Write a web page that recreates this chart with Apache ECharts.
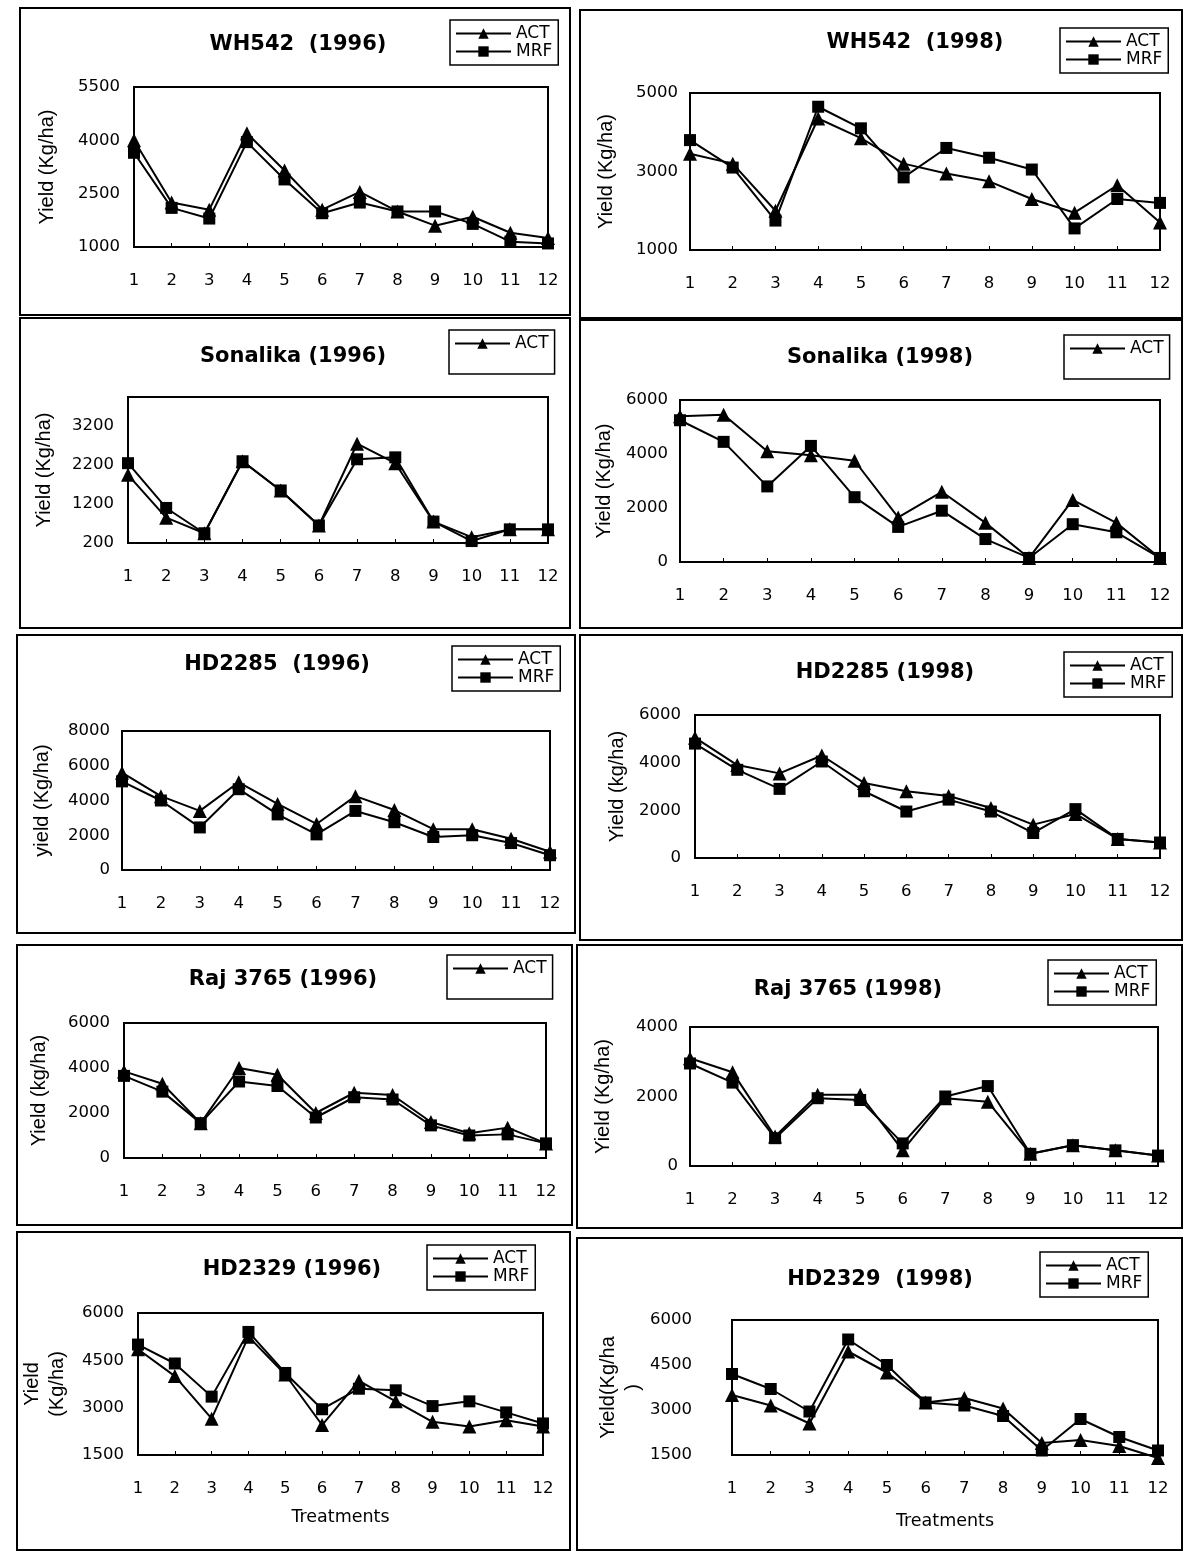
<!DOCTYPE html>
<html>
<head>
<meta charset="utf-8">
<script src="https://cdn.jsdelivr.net/npm/echarts@6/dist/echarts.min.js"></script>
<style>
  html, body { margin: 0; padding: 0; background: #fff; }
  #chart { width: 1184px; height: 1551px; }
</style>
</head>
<body>
<div id="chart"></div>
<script>
// Treatments on the x axis
const treatments = ['1', '2', '3', '4', '5', '6', '7', '8', '9', '10', '11', '12'];

// Grain yield (kg/ha): actual (ACT) and model (MRF) per treatment
const wh542_1996_act = [4000, 2250, 2050, 4200, 3150, 2050, 2550, 2000, 1600, 1850, 1400, 1250];
const wh542_1996_mrf = [3650, 2100, 1800, 3950, 2900, 1950, 2250, 2000, 2000, 1650, 1150, 1100];
const wh542_1998_act = [3450, 3200, 2000, 4350, 3850, 3200, 2950, 2750, 2300, 1950, 2650, 1700];
const wh542_1998_mrf = [3800, 3100, 1750, 4650, 4100, 2850, 3600, 3350, 3050, 1550, 2300, 2200];
const sonalika_1996_act = [1950, 850, 450, 2300, 1550, 650, 2750, 2250, 750, 350, 550, 550];
const sonalika_1996_mrf = [2250, 1100, 450, 2300, 1550, 650, 2350, 2400, 750, 250, 550, 550];
const sonalika_1998_act = [5400, 5450, 4100, 3950, 3750, 1650, 2600, 1450, 150, 2300, 1450, 150];
const sonalika_1998_mrf = [5250, 4450, 2800, 4300, 2400, 1300, 1900, 850, 150, 1400, 1100, 150];
const hd2285_1996_act = [5600, 4250, 3400, 5050, 3800, 2650, 4250, 3450, 2350, 2350, 1800, 1050];
const hd2285_1996_mrf = [5100, 4000, 2450, 4650, 3200, 2050, 3400, 2750, 1900, 2000, 1550, 850];
const hd2285_1998_act = [5050, 3900, 3550, 4300, 3150, 2800, 2600, 2100, 1400, 1850, 800, 650];
const hd2285_1998_mrf = [4800, 3700, 2900, 4050, 2800, 1950, 2450, 1950, 1050, 2050, 800, 650];
const raj3765_1996_act = [3850, 3300, 1550, 4000, 3700, 2000, 2900, 2800, 1600, 1100, 1350, 650];
const raj3765_1996_mrf = [3650, 2950, 1550, 3400, 3200, 1800, 2700, 2600, 1450, 1000, 1050, 650];
const raj3765_1998_act = [3100, 2700, 850, 2050, 2050, 450, 1950, 1850, 350, 600, 450, 300];
const raj3765_1998_mrf = [2950, 2400, 800, 1950, 1900, 650, 2000, 2300, 350, 600, 450, 300];
const hd2329_1996_act = [4850, 4000, 2650, 5250, 4050, 2450, 3850, 3200, 2550, 2400, 2600, 2400];
const hd2329_1996_mrf = [5000, 4400, 3350, 5400, 4100, 2950, 3600, 3550, 3050, 3200, 2850, 2500];
const hd2329_1998_act = [3500, 3150, 2550, 4950, 4250, 3250, 3400, 3050, 1900, 2000, 1800, 1400];
const hd2329_1998_mrf = [4200, 3700, 2950, 5350, 4500, 3250, 3150, 2800, 1650, 2700, 2100, 1650];

// Y-axis tick labels and upper limits
const wh542_1996_ticks = [1000, 2500, 4000, 5500];
const wh542_1998_ticks = [1000, 3000, 5000];
const sonalika_1996_ticks = [200, 1200, 2200, 3200];
const sonalika_1998_ticks = [0, 2000, 4000, 6000];
const hd2285_1996_ticks = [0, 2000, 4000, 6000, 8000];
const hd2285_1998_ticks = [0, 2000, 4000, 6000];
const raj3765_1996_ticks = [0, 2000, 4000, 6000];
const raj3765_1998_ticks = [0, 2000, 4000];
const hd2329_1996_ticks = [1500, 3000, 4500, 6000];
const hd2329_1998_ticks = [1500, 3000, 4500, 6000];
const axisMax = [5500, 5000, 3950, 6000, 8000, 6000, 6000, 4000, 6000, 6000];

// Panel titles, axis names and legend entries
const titles = ['WH542  (1996)', 'WH542  (1998)', 'Sonalika (1996)', 'Sonalika (1998)',
  'HD2285  (1996)', 'HD2285 (1998)', 'Raj 3765 (1996)', 'Raj 3765 (1998)',
  'HD2329 (1996)', 'HD2329  (1998)'];
const yNames = ['Yield (Kg/ha)', 'Yield (Kg/ha)', 'Yield (Kg/ha)', 'Yield (Kg/ha)',
  'yield (Kg/ha)', 'Yield (kg/ha)', 'Yield (kg/ha)', 'Yield (Kg/ha)',
  'Yield\n(Kg/ha)', 'Yield(Kg/ha\n)'];
const xNames = ['', '', '', '', '', '', '', '', 'Treatments', 'Treatments'];
const legendEntries = [['ACT', 'MRF'], ['ACT', 'MRF'], ['ACT'], ['ACT'], ['ACT', 'MRF'],
  ['ACT', 'MRF'], ['ACT'], ['ACT', 'MRF'], ['ACT', 'MRF'], ['ACT', 'MRF']];

const actSeries = [wh542_1996_act, wh542_1998_act, sonalika_1996_act, sonalika_1998_act,
  hd2285_1996_act, hd2285_1998_act, raj3765_1996_act, raj3765_1998_act, hd2329_1996_act, hd2329_1998_act];
const mrfSeries = [wh542_1996_mrf, wh542_1998_mrf, sonalika_1996_mrf, sonalika_1998_mrf,
  hd2285_1996_mrf, hd2285_1998_mrf, raj3765_1996_mrf, raj3765_1998_mrf, hd2329_1996_mrf, hd2329_1998_mrf];
const tickSets = [wh542_1996_ticks, wh542_1998_ticks, sonalika_1996_ticks, sonalika_1998_ticks,
  hd2285_1996_ticks, hd2285_1998_ticks, raj3765_1996_ticks, raj3765_1998_ticks, hd2329_1996_ticks, hd2329_1998_ticks];

// Page layout of each panel: plot box [left, top, width, height], outer frame,
// title centre, legend corner, y label margin, y name gap, x name gap
const layouts = [
  { grid: [134, 87, 414, 160],   frame: [20, 8, 550, 307],     title: [298, 45],   legend: [450, 20],   lm: 14, ng: 74, xg: 0 },
  { grid: [690, 93, 470, 157],   frame: [580, 10, 602, 308],   title: [915, 43],   legend: [1060, 28],  lm: 12, ng: 71, xg: 0 },
  { grid: [128, 397, 420, 146],  frame: [20, 318, 550, 310],   title: [293, 357],  legend: [449, 330],  lm: 14, ng: 71, xg: 0 },
  { grid: [680, 400, 480, 162],  frame: [580, 320, 602, 308],  title: [880, 358],  legend: [1064, 335], lm: 12, ng: 63, xg: 0 },
  { grid: [122, 731, 428, 139],  frame: [17, 635, 558, 298],   title: [277, 665],  legend: [452, 646],  lm: 12, ng: 67, xg: 0 },
  { grid: [695, 715, 465, 143],  frame: [580, 635, 602, 305],  title: [885, 673],  legend: [1064, 652], lm: 14, ng: 65, xg: 0 },
  { grid: [124, 1023, 422, 135], frame: [17, 945, 555, 280],   title: [283, 980],  legend: [447, 955],  lm: 14, ng: 72, xg: 0 },
  { grid: [690, 1027, 468, 139], frame: [577, 945, 605, 283],  title: [848, 990],  legend: [1048, 960], lm: 12, ng: 74, xg: 0 },
  { grid: [138, 1313, 405, 142], frame: [17, 1232, 553, 318],  title: [292, 1270], legend: [427, 1245], lm: 14, ng: 68, xg: 53 },
  { grid: [732, 1320, 426, 135], frame: [577, 1238, 605, 312], title: [880, 1280], legend: [1040, 1252], lm: 40, ng: 75, xg: 57 }
];

const TEXT_FONT = '"DejaVu Sans", sans-serif';
const NAME_FONT = '"Liberation Sans", Arial, sans-serif';
const plainNumber = (v) => String(v);

const grids = [], xAxes = [], yAxes = [], series = [], legends = [], graphics = [];

layouts.forEach((L, i) => {
  const [gl, gt, gw, gh] = L.grid;
  grids.push({ left: gl, top: gt, width: gw, height: gh, show: true, borderColor: '#000', borderWidth: 2, backgroundColor: 'transparent' });

  xAxes.push({
    type: 'category', gridIndex: i, data: treatments, boundaryGap: false,
    axisLine: { show: true, lineStyle: { color: '#000', width: 2 } },
    axisTick: { show: true, inside: true, length: 4, lineStyle: { color: '#000', width: 1 } },
    axisLabel: { interval: 0, color: '#000', fontSize: 16.5, fontFamily: TEXT_FONT, margin: 25 },
    splitLine: { show: false },
    name: xNames[i], nameLocation: 'middle', nameGap: L.xg,
    nameTextStyle: { color: '#000', fontSize: 17.5, fontFamily: TEXT_FONT }
  });

  yAxes.push({
    type: 'value', gridIndex: i, min: tickSets[i][0], max: axisMax[i],
    axisLine: { show: true, lineStyle: { color: '#000', width: 2 } },
    axisTick: { show: false },
    splitLine: { show: false },
    axisLabel: { customValues: tickSets[i], formatter: plainNumber, color: '#000', fontSize: 16.5, fontFamily: TEXT_FONT, margin: L.lm },
    name: yNames[i], nameLocation: 'middle', nameRotate: 90, nameGap: L.ng,
    nameTextStyle: { color: '#000', fontSize: 20, fontFamily: NAME_FONT, lineHeight: 25 }
  });

  series.push({
    type: 'line', name: 'MRF', xAxisIndex: i, yAxisIndex: i, data: mrfSeries[i],
    symbol: 'rect', symbolSize: 12, clip: false,
    lineStyle: { color: '#000', width: 2 }, itemStyle: { color: '#000' }
  });
  series.push({
    type: 'line', name: 'ACT', xAxisIndex: i, yAxisIndex: i, data: actSeries[i],
    symbol: 'triangle', symbolSize: 14, clip: false,
    lineStyle: { color: '#000', width: 2 }, itemStyle: { color: '#000' }
  });

  const single = legendEntries[i].length === 1;
  legends.push({
    data: legendEntries[i], orient: 'vertical', left: L.legend[0], top: L.legend[1],
    itemWidth: 55, itemHeight: 13, itemGap: 1,
    padding: single ? [5, 6, 22, 5] : [5, 6, 5, 5],
    borderColor: '#000', borderWidth: 1.5, selectedMode: false,
    textStyle: { color: '#000', fontSize: 17, fontFamily: TEXT_FONT, lineHeight: 16 }
  });

  const [fx, fy, fw, fh] = L.frame;
  graphics.push({
    type: 'rect', shape: { x: fx, y: fy, width: fw, height: fh },
    style: { fill: 'none', stroke: '#000', lineWidth: 2 }, silent: true
  });
  graphics.push({
    type: 'text', x: L.title[0], y: L.title[1],
    style: { text: titles[i], fill: '#000', font: 'bold 21px "DejaVu Sans", sans-serif', align: 'center', verticalAlign: 'middle' },
    silent: true
  });
});

const chart = echarts.init(document.getElementById('chart'), null, { renderer: 'canvas' });
chart.setOption({
  backgroundColor: '#fff',
  animation: false,
  grid: grids,
  xAxis: xAxes,
  yAxis: yAxes,
  legend: legends,
  series: series,
  graphic: graphics
});
</script>
</body>
</html>
